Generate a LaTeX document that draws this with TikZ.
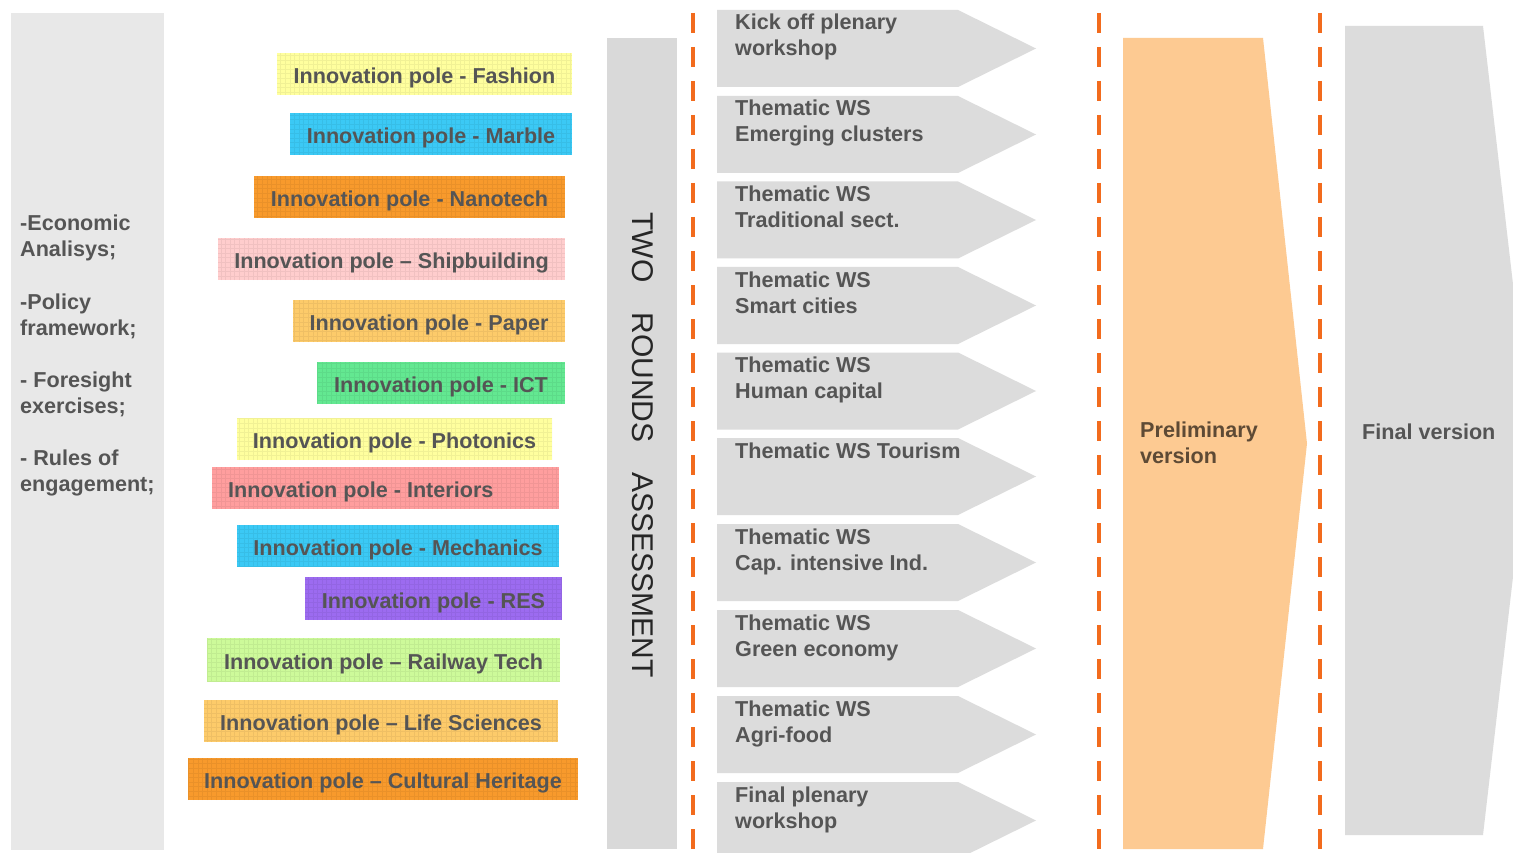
\documentclass[tikz,border=0pt]{standalone}
\usepackage{fontspec}
\setmainfont{Liberation Sans}
\begin{document}
\definecolor{panelgray}{HTML}{E8E8E8}
\definecolor{assessgray}{HTML}{D9D9D9}
\definecolor{stepgray}{HTML}{DCDCDC}
\definecolor{peach}{HTML}{FDCA92}
\definecolor{dashorange}{HTML}{F26B1D}
\definecolor{txtgray}{HTML}{555555}
\definecolor{prelimtxt}{HTML}{5E4A35}
\definecolor{cFashion}{HTML}{FFFF9E}
\definecolor{cMarble}{HTML}{3BC9F5}
\definecolor{cNano}{HTML}{F89A2C}
\definecolor{cShip}{HTML}{FFCDCD}
\definecolor{cPaper}{HTML}{FDCB6A}
\definecolor{cICT}{HTML}{63E891}
\definecolor{cPhoto}{HTML}{FFFF9E}
\definecolor{cInter}{HTML}{FF9E9E}
\definecolor{cMech}{HTML}{3BC9F5}
\definecolor{cRES}{HTML}{9C6BF0}
\definecolor{cRail}{HTML}{CDFA9A}
\definecolor{cLife}{HTML}{FDCB6A}
\definecolor{cHerit}{HTML}{F89A2C}
% coloured pole box with a faint grid texture and a centred label
\newcommand{\polebox}[7]{%
  \fill[#6] (#2,#3) rectangle (#4,#5);
  \begin{scope}
    \clip (#2,#3) rectangle (#4,#5);
    \draw[#6!70!black, line width=0.35pt, opacity=0.18, step=4.6pt] (#2,#3) grid (#4,#5);
  \end{scope}
  \node[poletext] (#1) at ({(#2+#4)/2},{(#3+#5)/2+9.5}) {#7};
}
\begin{tikzpicture}[x=1pt,y=-1pt,
  bodytext/.style={font=\fontsize{21.6}{26}\selectfont\bfseries, text=txtgray, inner sep=0pt, align=left},
  poletext/.style={font=\fontsize{21.6}{26}\selectfont\bfseries, text=txtgray, inner sep=0pt, anchor=base},
  steptext/.style={bodytext, anchor=base west},
  dashline/.style={draw=dashorange, line width=4.5pt, dash pattern=on 20pt off 14pt},
  stepshape/.style={fill=stepgray}]
\useasboundingbox (0,0) rectangle (1513,853);
\fill[white] (0,0) rectangle (1513,853);

% inputs panel (labels anchored on the baseline of their last line)
\fill[panelgray] (11,13) rectangle (164,850);
\node[steptext] (econ) at (20,257) {-Economic\\Analisys;};
\node[steptext] (policy) at (20,335) {-Policy\\framework;};
\node[steptext] (foresight) at (20,413) {- Foresight\\exercises;};
\node[steptext] (rules) at (20,491) {- Rules of\\engagement;};

% innovation poles
\polebox{fashion}{277}{53}{572}{95}{cFashion}{Innovation pole - Fashion}
\polebox{marble}{290}{113}{572}{155}{cMarble}{Innovation pole - Marble}
\polebox{nano}{254}{176}{565}{218}{cNano}{Innovation pole - Nanotech}
\polebox{ship}{218}{238}{565}{280}{cShip}{Innovation pole -- Shipbuilding}
\polebox{paper}{293}{300}{565}{342}{cPaper}{Innovation pole - Paper}
\polebox{ict}{317}{362}{565}{404}{cICT}{Innovation pole - ICT}
\polebox{photo}{237}{418}{552}{460}{cPhoto}{Innovation pole - Photonics}
\fill[cInter] (212,467) rectangle (559,509);
\begin{scope}
  \clip (212,467) rectangle (559,509);
  \draw[cInter!70!black, line width=0.35pt, opacity=0.18, step=4.6pt] (212,467) grid (559,509);
\end{scope}
\node[poletext, anchor=base west] (interiors) at (228,497) {Innovation pole - Interiors};
\polebox{mech}{237}{525}{559}{567}{cMech}{Innovation pole - Mechanics}
\polebox{res}{305}{577}{562}{620}{cRES}{Innovation pole - RES}
\polebox{rail}{207}{638}{560}{682}{cRail}{Innovation pole -- Railway Tech}
\polebox{life}{204}{700}{558}{742}{cLife}{Innovation pole -- Life Sciences}
\polebox{herit}{188}{758}{578}{800}{cHerit}{Innovation pole -- Cultural Heritage}

% assessment column
\fill[assessgray] (607,38) rectangle (677,849);
\node[font=\fontsize{30}{36}\selectfont, text=black!85, inner sep=0pt, anchor=base, rotate=-90]
  (assess) at (632,445) {TWO\hspace{30pt}ROUNDS\hspace{30pt}ASSESSMENT};

% dashed separators
\coordinate (d1t) at (693,13);  \coordinate (d1b) at (693,852);
\coordinate (d2t) at (1099,13); \coordinate (d2b) at (1099,852);
\coordinate (d3t) at (1320,13); \coordinate (d3b) at (1320,852);
\draw[dashline] (d1t) -- (d1b);
\draw[dashline] (d2t) -- (d2b);
\draw[dashline] (d3t) -- (d3b);

% workshop steps: top edge / name / baseline offset of last line / label
\foreach \t/\lbl/\off/\txt in {
  10/kick/46/{Kick off plenary\\workshop},
  96/emerg/46/{Thematic WS\\Emerging clusters},
  181.5/trad/46/{Thematic WS\\Traditional sect.},
  267/smart/46/{Thematic WS\\Smart cities},
  352.5/human/46/{Thematic WS\\Human capital},
  438/tour/20/{Thematic WS Tourism},
  524/capint/46/{Thematic WS\\Cap. intensive Ind.},
  610/green/46/{Thematic WS\\Green economy},
  696/agri/46/{Thematic WS\\Agri-food},
  782/final/46/{Final plenary\\workshop}}{
  \fill[stepshape] (717,\t) -- (958,\t) -- (1036,\t+38.5) -- (958,\t+77) -- (717,\t+77) -- cycle;
  \node[steptext] (\lbl) at (735,\t+\off) {\txt};
}

% preliminary version
\fill[peach] (1123,38) -- (1263,38) -- (1307,443.5) -- (1263,849) -- (1123,849) -- cycle;
\node[steptext, text=prelimtxt] (prelim) at (1140,463) {Preliminary\\version};

% final version
\fill[stepgray] (1345,26) -- (1483,26) -- (1530,430.5) -- (1483,835) -- (1345,835) -- cycle;
\node[steptext] (finalv) at (1362,439) {Final version};
\end{tikzpicture}
\end{document}
